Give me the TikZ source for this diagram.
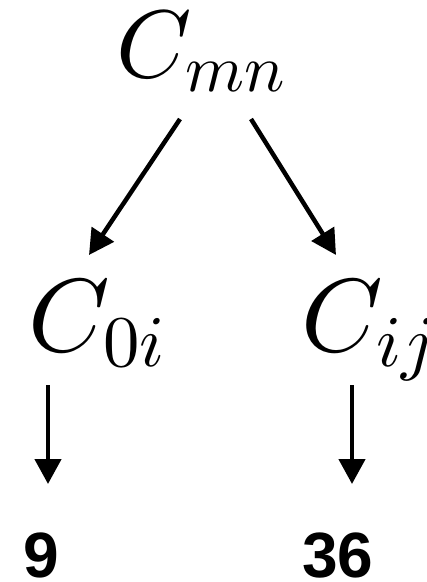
\RequirePackage{fix-cm}
\documentclass[tikz,border=0pt]{standalone}
\usepackage{fontspec}
\DeclareFontShape{OML}{cmm}{m}{it}{<->cmmi10}{\skewchar\font127}
\DeclareFontShape{OT1}{cmr}{m}{n}{<->cmr10}{}
\newfontfamily\countfont{Liberation Sans}
\usetikzlibrary{arrows.meta}

\begin{document}
\begin{tikzpicture}[x=1pt,y=-1pt,>={Triangle[length=25pt,width=26pt]},
  sym/.style={inner sep=0pt,anchor=base},
  count/.style={inner sep=0pt,anchor=base,font=\countfont\bfseries\fontsize{64}{70}\selectfont},
  arr/.style={->,line width=4.5pt}]
\useasboundingbox (0,0) rectangle (427,582);
\node[sym,font=\fontsize{96}{110}\selectfont] (mn) at (201,77) {$C_{mn}$};
\node[sym,font=\fontsize{104}{120}\selectfont] (oi) at (97,351) {$C_{0i}$};
\node[sym,font=\fontsize{104}{120}\selectfont] (ij) at (369,351) {$C_{ij}$};
\node[count] (n9) at (41,577) {9};
\node[count] (n36) at (338,577) {36};
% arrow ends
\coordinate (mn-l) at (180,119);
\coordinate (mn-r) at (251,119);
\coordinate (oi-t) at (89,255);
\coordinate (ij-t) at (336,255);
\coordinate (oi-b) at (48,385);
\coordinate (ij-b) at (352,385);
\coordinate (n9-t) at (48,484);
\coordinate (n36-t) at (352,484);
\draw[arr] (mn-l) -- (oi-t);
\draw[arr] (mn-r) -- (ij-t);
\foreach \a/\b in {oi-b/n9-t,ij-b/n36-t}
  \draw[arr] (\a) -- (\b);
\end{tikzpicture}
\end{document}
